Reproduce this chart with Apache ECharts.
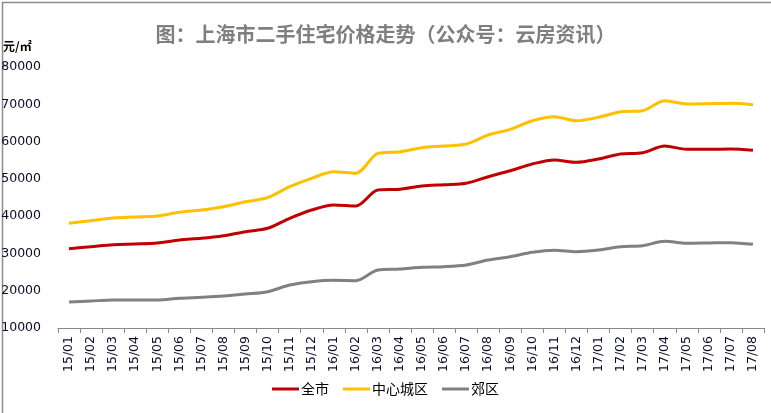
<!DOCTYPE html>
<html><head><meta charset="utf-8">
<script src="https://cdn.jsdelivr.net/npm/echarts@6/dist/echarts.min.js"></script>
<style>html,body{margin:0;padding:0;background:#fff}#c{width:771px;height:413px}</style>
</head><body><div id="c"></div>
<script>
const categories = ['15/01','15/02','15/03','15/04','15/05','15/06','15/07','15/08','15/09','15/10','15/11','15/12',
  '16/01','16/02','16/03','16/04','16/05','16/06','16/07','16/08','16/09','16/10','16/11','16/12',
  '17/01','17/02','17/03','17/04','17/05','17/06','17/07','17/08'];
const cityAll = [31270,31800,32340,32530,32800,33600,34050,34750,35830,36740,39420,41650,
  42990,42700,47000,47200,48080,48430,48810,50580,52190,53990,55060,54440,
  55330,56670,57020,58810,57930,57930,58010,57660];
const cityCenter = [38080,38780,39500,39770,40040,41030,41650,42530,43870,44950,47900,50150,
  51900,51500,56850,57290,58360,58810,59350,61760,63290,65600,66670,65600,
  66510,68010,68280,70960,70080,70160,70270,69890];
const suburb = [16970,17240,17510,17510,17510,17970,18240,18580,19120,19740,21530,22420,
  22790,22700,25560,25820,26280,26440,26900,28240,29130,30300,30840,30460,
  30920,31800,32070,33250,32710,32800,32890,32450];
const seriesNames = ['全市','中心城区','郊区'];
const colors = ['#C00000','#FFC000','#808080'];

const chart = echarts.init(document.getElementById('c'), null, {renderer:'canvas'});
const mk = (name, data, color) => ({
  name, type:'line', data, smooth:0.3, symbol:'none',
  lineStyle:{color, width:3}, itemStyle:{color}
});
chart.setOption({
  animation:false,
  backgroundColor:'#fff',
  title:{text:'图：上海市二手住宅价格走势（公众号：云房资讯）', left:'center', top:19,
    textStyle:{fontFamily:'Noto Sans CJK SC', fontWeight:'bold', fontSize:20, color:'#7f7f7f'}},
  graphic:[
    {type:'rect', left:0, top:0, shape:{x:0.5,y:0.5,width:770,height:412}, style:{fill:'none', stroke:'#8c8c8c', lineWidth:1.5}, silent:true},
    {type:'text', left:3, top:40, style:{text:'元/㎡', font:'bold 12px "Noto Sans CJK SC"', fill:'#000'}}
  ],
  grid:{left:58, right:7, top:67, bottom:85, containLabel:false, outerBoundsMode:'none'},
  legend:{bottom:12, left:'center', icon:'rect', itemWidth:27, itemHeight:3, itemGap:14,
    textStyle:{fontFamily:'Noto Sans CJK SC', fontSize:14, color:'#000', padding:[0,0,0,-3]},
    data:seriesNames},
  xAxis:{type:'category', data:categories, boundaryGap:true,
    axisLine:{lineStyle:{color:'#898989', width:1}},
    axisTick:{show:true, length:5, lineStyle:{color:'#898989'}},
    axisLabel:{rotate:90, interval:0, fontFamily:'DejaVu Sans', fontSize:12.5, color:'#0a0a2a', margin:8}},
  yAxis:{type:'value', min:10000, max:80000, interval:10000,
    axisLine:{show:false}, axisTick:{show:false}, splitLine:{show:false},
    axisLabel:{fontFamily:'DejaVu Sans', fontSize:12.5, color:'#0a0a2a', margin:17, formatter:v => String(v)}},
  series:[mk(seriesNames[0], cityAll, colors[0]), mk(seriesNames[1], cityCenter, colors[1]), mk(seriesNames[2], suburb, colors[2])]
});
</script></body></html>
